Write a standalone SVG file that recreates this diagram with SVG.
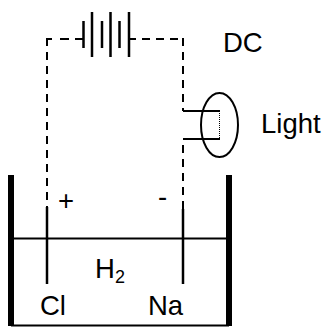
<svg xmlns="http://www.w3.org/2000/svg" width="325" height="327" viewBox="0 0 325 327">
<style>
.t{font-family:"Liberation Sans",Arial,sans-serif;font-size:27.500px;fill:#000}
.d{fill:none;stroke:#000;stroke-width:2;stroke-dasharray:8 6}
.s{fill:none;stroke:#000;stroke-width:2}
.b{stroke:#000;stroke-width:2.500;fill:none}
</style>
<rect width="325" height="327" fill="#fff"/>
<g id="connectors">
<path class="d" d="M47 38V207"/>
<path class="d" d="M183 38V111"/>
<path class="d" d="M183 209V139"/>
<path class="s" d="M47 39H52M60 39H69M75 39H83M129 39H136M142 39H150M156 39H164M170 39H178"/>
</g>
<g id="battery">
<path class="b" d="M83.500 21V48M92 12V57M102 21V48M110.500 12V57M119.500 21V48M129 12V57"/>
</g>
<g id="lamp">
<ellipse class="s" cx="219.500" cy="125" rx="18.500" ry="32"/>
<path class="s" d="M183 111H220M183 139H220"/>
<path d="M219.500 111V139" stroke="#000" stroke-width="1" stroke-dasharray="1 1" fill="none"/>
</g>
<g id="tank">
<path d="M11 175V326M229 175V326" stroke="#000" stroke-width="6" fill="none"/>
<path d="M11 325.500H229" stroke="#000" stroke-width="2" fill="none"/>
<path d="M11 238.500H229" stroke="#000" stroke-width="2" fill="none"/>
</g>
<g id="electrode-cl">
<path class="b" d="M47 207V284"/>
<text class="t" x="40" y="315">Cl</text>
<text class="t" x="58" y="210">+</text>
</g>
<g id="electrode-na">
<path class="b" d="M183 209V284"/>
<text class="t" x="148" y="315">Na</text>
<text class="t" x="158" y="206">-</text>
</g>
<g id="labels">
<text class="t" x="95" y="278">H<tspan font-size="18" dy="5">2</tspan></text>
<text class="t" x="223" y="52">DC</text>
<text class="t" x="261" y="133">Light</text>
</g>
</svg>
